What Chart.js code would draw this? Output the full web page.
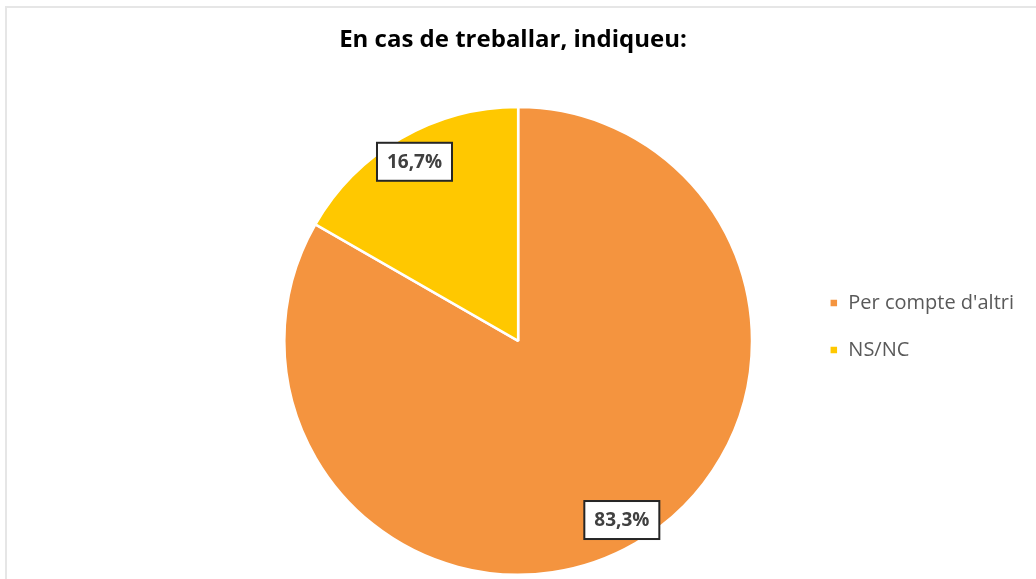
<!DOCTYPE html>
<html>
<head>
<meta charset="utf-8">
<script src="https://cdn.jsdelivr.net/npm/chart.js@4/dist/chart.umd.min.js"></script>
<style>
  html, body { margin: 0; padding: 0; background: #fff; overflow: hidden; }
  #wrap { position: relative; width: 1036px; height: 579px; }
  #frame { position: absolute; left: 5px; top: 6px; width: 1100px; height: 700px; border: 2px solid #e6e6e6; box-sizing: border-box; }
  #c { position: absolute; left: 0; top: 0; }
</style>
</head>
<body>
<div id="wrap">
  <div id="frame"></div>
  <canvas id="c" width="1036" height="579"></canvas>
</div>
<script>
const TITLE = 'En cas de treballar, indiqueu:';
const categories = ["Per compte d'altri", 'NS/NC'];
const values = [83.3, 16.7];
const sliceColors = ['#F4943F', '#FFC800'];

const FONT = '"Open Sans", Lato, sans-serif';

// percent labels in white boxes with a dark outline
const boxLabels = {
  id: 'boxLabels',
  afterDatasetsDraw(chart) {
    const ctx = chart.ctx;
    const meta = chart.getDatasetMeta(0);
    ctx.save();
    ctx.font = 'bold 19px ' + FONT;
    ctx.textAlign = 'center';
    ctx.textBaseline = 'middle';
    meta.data.forEach((arc, i) => {
      const p = arc.getProps(['x', 'y', 'startAngle', 'endAngle', 'outerRadius'], true);
      const mid = (p.startAngle + p.endAngle) / 2;
      const r = p.outerRadius * 0.885;
      const cx = p.x + Math.cos(mid) * r;
      const cy = p.y + Math.sin(mid) * r;
      const text = values[i].toFixed(1).replace('.', ',') + '%';
      const w = Math.round(ctx.measureText(text).width) + 20;
      const h = 38;
      ctx.fillStyle = '#fff';
      ctx.fillRect(cx - w / 2, cy - h / 2, w, h);
      ctx.lineWidth = 2;
      ctx.strokeStyle = '#262626';
      ctx.strokeRect(cx - w / 2, cy - h / 2, w, h);
      ctx.fillStyle = '#404040';
      ctx.fillText(text, cx, cy + 1);
    });
    ctx.restore();
  }
};

// title centred on the whole canvas, legend block a bit above the pie centre
const tweakLayout = {
  id: 'tweakLayout',
  afterLayout(chart) {
    const t = chart.titleBlock;
    t.left = 0;
    t.right = chart.width - 10;
    const l = chart.legend;
    l.top -= 14.5;
    l.bottom -= 14.5;
  }
};

new Chart(document.getElementById('c'), {
  type: 'pie',
  data: {
    labels: categories,
    datasets: [{
      data: values,
      backgroundColor: sliceColors,
      borderColor: '#fff',
      borderWidth: 2.5,
    }],
  },
  options: {
    responsive: false,
    animation: false,
    layout: { padding: { left: 234, right: 12, top: 0, bottom: 3 } },
    plugins: {
      title: {
        display: true,
        text: TITLE,
        color: '#000',
        font: { family: FONT, size: 24, weight: 'bold' },
        padding: { top: 26, bottom: 51 },
      },
      legend: {
        position: 'right',
        fullSize: false,
        labels: {
          boxWidth: 9,
          boxHeight: 9,
          padding: 27,
          color: '#595959',
          font: { family: FONT, size: 20 },
        },
      },
      tooltip: { enabled: false },
    },
  },
  plugins: [boxLabels, tweakLayout],
});
</script>
</body>
</html>
